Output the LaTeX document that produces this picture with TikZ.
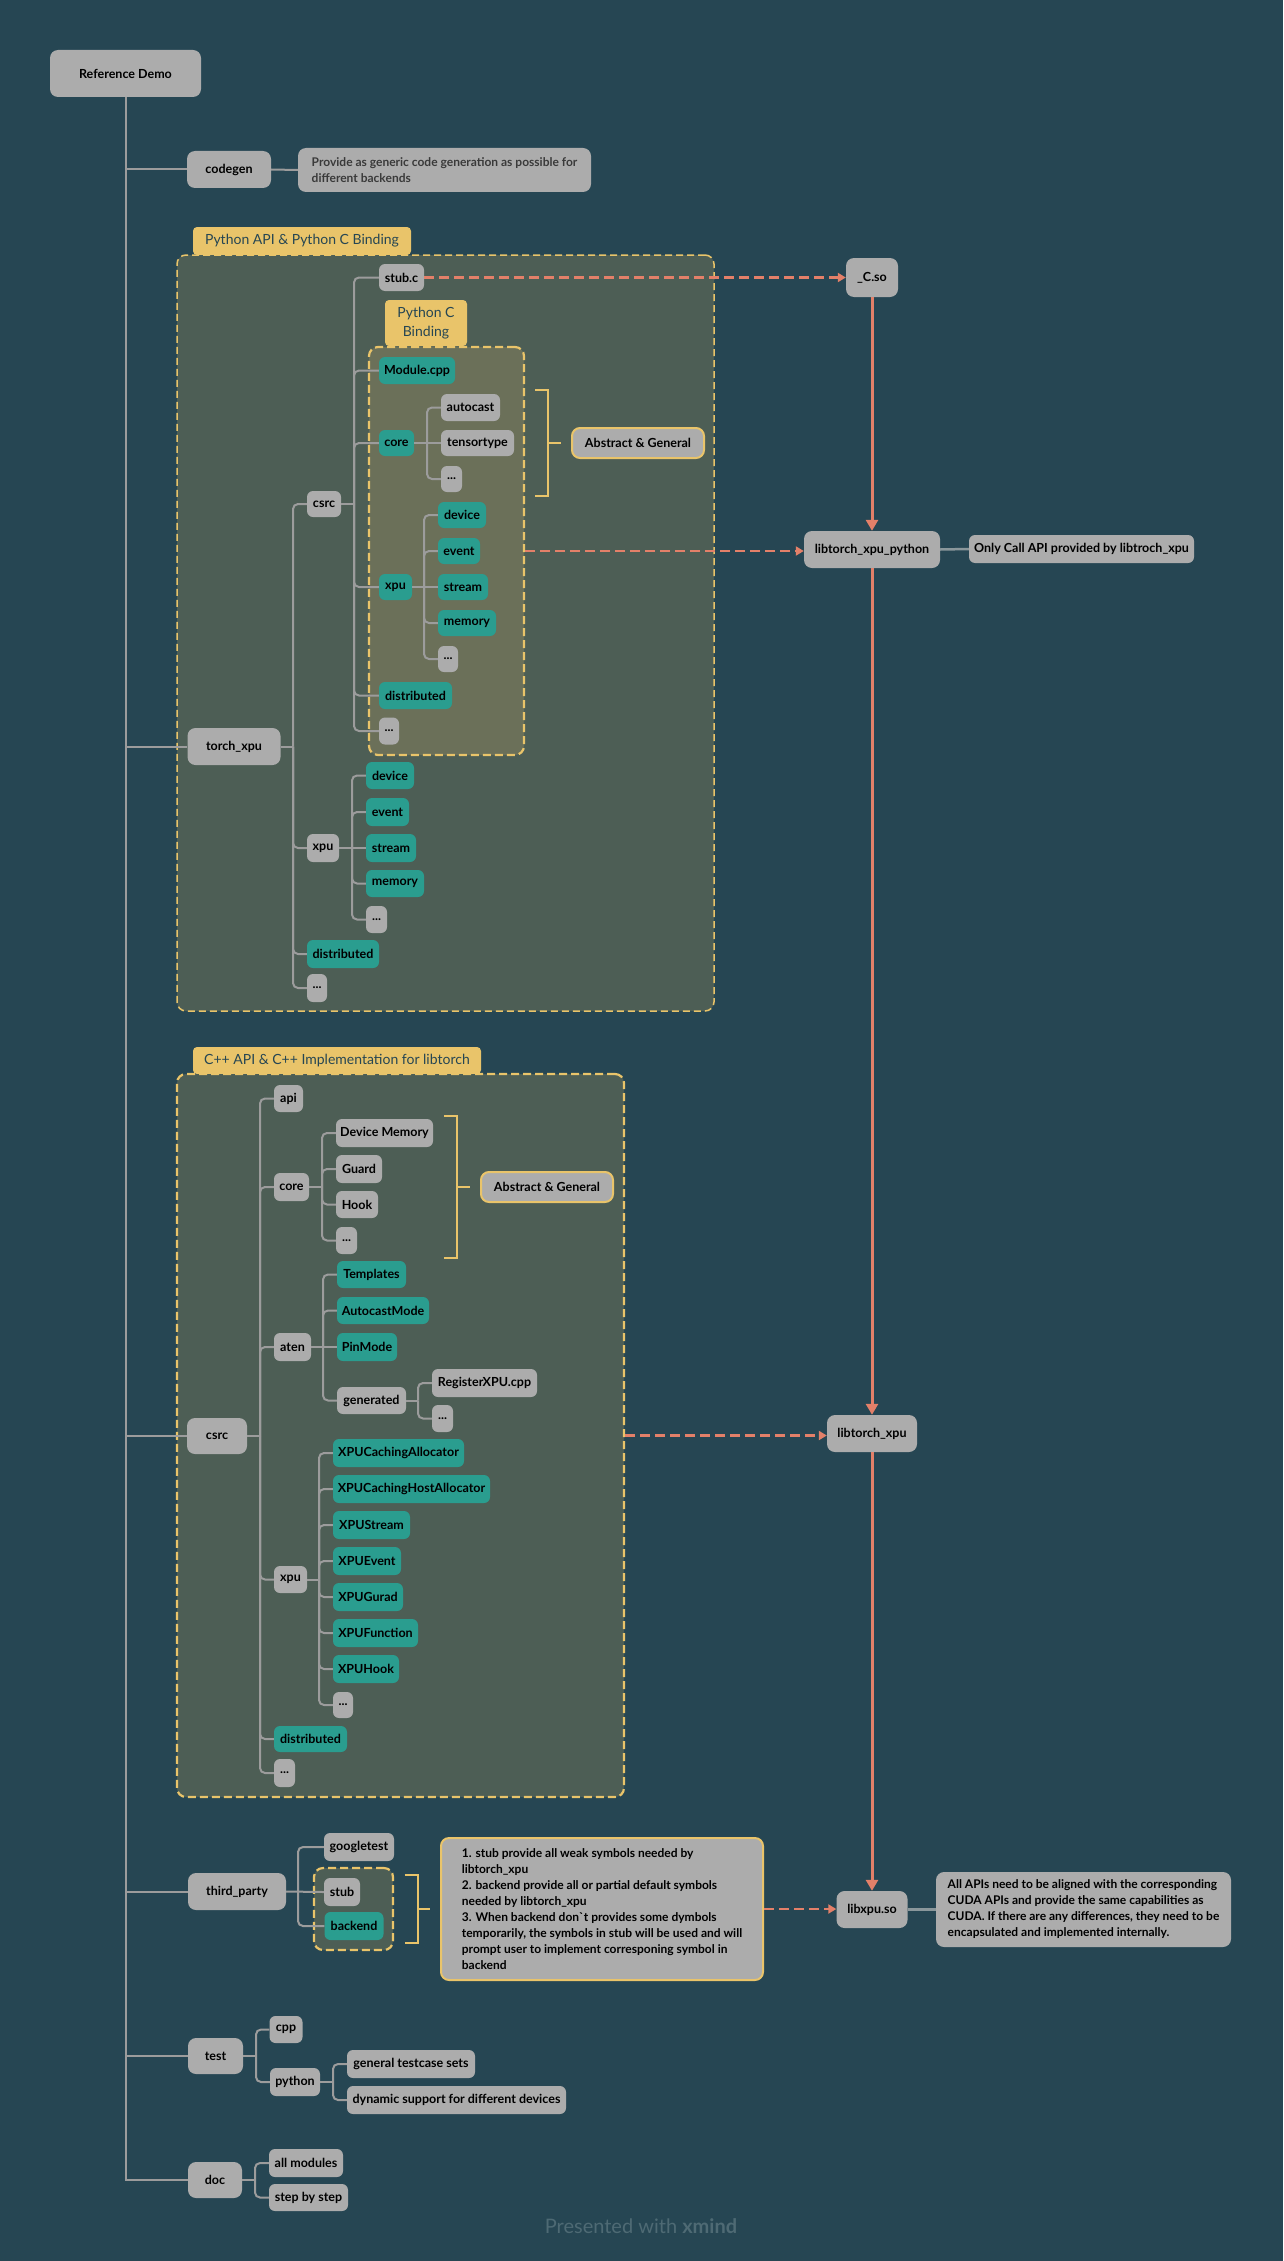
\documentclass[tikz,border=0pt]{standalone}
\usepackage{fontspec}
\setmainfont{Lato}
\usetikzlibrary{arrows, arrows.meta}

\definecolor{bgblue}{HTML}{264653}
\definecolor{nodegray}{HTML}{ACACAC}
\definecolor{nodeteal}{HTML}{2A9D8F}
\definecolor{tabyellow}{HTML}{E9C46A}
\definecolor{arrowred}{HTML}{E38069}
\definecolor{groupfill}{HTML}{4D5E55}
\definecolor{bindfill}{HTML}{6B7059}
\definecolor{linegray}{HTML}{9C9C9C}
\definecolor{notetext}{HTML}{3A3A3A}
\definecolor{markgray}{HTML}{4E6A74}
\definecolor{sidegray}{HTML}{8A979B}

\tikzset{
  sz/.style 2 args={minimum width=#1, minimum height=#2},
  gnode/.style={fill=nodegray, rounded corners=6, inner sep=0pt, text=black,
                font=\bfseries\fontsize{12.5}{15}\selectfont},
  tnode/.style={gnode, fill=nodeteal},
  topic/.style={gnode, rounded corners=8},
  summary/.style={gnode, draw=tabyellow, line width=2, rounded corners=8},
  tab/.style={fill=tabyellow, rounded corners=4, inner sep=0pt, text=bgblue,
              font=\fontsize{14}{19}\selectfont},
  group/.style={fill=groupfill, draw=tabyellow, dash pattern=on 7pt off 4pt,
                line width=1.5, rounded corners=9},
  branch/.style={draw=linegray, line width=2, rounded corners=5},
  trunk/.style={draw=linegray, line width=2},
  brak/.style={draw=tabyellow, line width=2},
  flow/.style={draw=arrowred, line width=3, -{Triangle[length=11pt,width=12pt]}},
  link/.style={draw=arrowred, line width=2.6, dash pattern=on 10pt off 5pt, -{Triangle[length=8pt,width=9pt]}},
  aside/.style={draw=sidegray, line width=2.5},
}

\begin{document}
\begin{tikzpicture}[x=1pt,y=-1pt]
\fill[bgblue] (0,0) rectangle (1283,2261);
\useasboundingbox (0,0) rectangle (1283,2261);

% main topics
\node[topic, sz={151}{47}] (root) at (125.5,73.5) {Reference Demo};
\node[topic, sz={84}{37}] (codegen) at (229,169.5) {codegen};
\node[gnode, sz={293}{44}, align=left, rounded corners=8, text=notetext,
      font=\bfseries\fontsize{12}{16}\selectfont] (codegenNote) at (444.5,170)
      {Provide as generic code generation as possible for\\different backends};

%% Python API & Python C Binding
\node[tab, sz={218}{28}] (pyTab) at (302,241) {Python API \& Python C Binding};
\node[group, sz={537}{756}] (pyGroup) at (445.5,633) {};
\node[tab, sz={82}{46}, align=center] (bindTab) at (426,323) {Python C\\Binding};
\node[group, fill=bindfill, line width=2.2, dash pattern=on 8pt off 4pt, sz={155}{408}] (bindGroup) at (446.5,551) {};

\node[topic, sz={93}{37}] (torchxpu) at (234,746.5) {torch\_xpu};
\node[gnode, sz={34}{26}] (csrcA) at (324,504) {csrc};
\node[gnode, sz={32}{28}] (xpuA) at (323,848) {xpu};
\node[tnode, sz={72}{28}] (distA) at (343,954) {distributed};
\node[gnode, sz={20}{28}] (dotsA) at (317,988) {...};

\node[gnode, sz={45}{27}] (stubc) at (401.5,277.5) {stub.c};
\node[tnode, sz={76}{27}] (modcpp) at (417,370.5) {Module.cpp};
\node[tnode, sz={35}{26}] (coreA) at (396.5,443) {core};
\node[tnode, sz={33}{26}] (xpuB) at (395.5,587) {xpu};
\node[tnode, sz={73}{27}] (distB) at (415.5,695.5) {distributed};
\node[gnode, sz={20}{27}] (dotsB) at (389,731) {...};

\node[gnode, sz={59}{27}] (autocast) at (470.5,407.5) {autocast};
\node[gnode, sz={73}{26}] (tensortype) at (477.5,443) {tensortype};
\node[gnode, sz={21}{26}] (dotsC) at (451.5,479) {...};

\node[tnode, sz={48}{26}] (devB) at (462,515) {device};
\node[tnode, sz={42}{26}] (evtB) at (459,551) {event};
\node[tnode, sz={50}{26}] (strB) at (463,587) {stream};
\node[tnode, sz={58}{26}] (memB) at (467,623) {memory};
\node[gnode, sz={20}{26}] (dotsD) at (448,659) {...};

\node[tnode, sz={48}{27}] (devA) at (390,775.5) {device};
\node[tnode, sz={43}{28}] (evtA) at (387.5,812) {event};
\node[tnode, sz={50}{28}] (strA) at (391,848) {stream};
\node[tnode, sz={58}{27}] (memA) at (395,883.5) {memory};
\node[gnode, sz={21}{27}] (dotsE) at (376.5,919.5) {...};

\draw[brak] (535,390) -- (548,390) -- (548,496) -- (535,496);
\draw[brak] (548,443) -- (561,443);
\node[summary, sz={132}{30}] (absA) at (638,443) {Abstract \& General};

%% C++ API & C++ Implementation for libtorch
\node[tab, sz={288}{27}] (cppTab) at (337,1060.5) {C++ API \& C++ Implementation for libtorch};
\node[group, line width=2.2, dash pattern=on 8pt off 4pt, sz={447}{723}] (cppGroup) at (400.5,1435.5) {};

\node[topic, sz={60}{36}] (csrcB) at (217,1436) {csrc};
\node[gnode, sz={29}{27}] (api) at (288.5,1098.5) {api};
\node[gnode, sz={35}{28}] (coreB) at (291.5,1187) {core};
\node[gnode, sz={37}{28}] (aten) at (292.5,1347) {aten};
\node[gnode, sz={33}{27}] (xpuC) at (290.5,1579.5) {xpu};
\node[tnode, sz={73}{26}] (distC) at (310.5,1739) {distributed};
\node[gnode, sz={21}{28}] (dotsF) at (284.5,1773) {...};

\node[gnode, sz={97}{28}] (devmem) at (384.5,1133) {Device Memory};
\node[gnode, sz={46}{28}] (guard) at (359,1169) {Guard};
\node[gnode, sz={42}{27}] (hook) at (357,1204.5) {Hook};
\node[gnode, sz={21}{27}] (dotsG) at (346.5,1240.5) {...};

\draw[brak] (444,1116) -- (457,1116) -- (457,1258) -- (444,1258);
\draw[brak] (457,1187) -- (470,1187);
\node[summary, sz={132}{30}] (absB) at (547,1187) {Abstract \& General};

\node[tnode, sz={69}{27}] (templ) at (371.5,1274.5) {Templates};
\node[tnode, sz={92}{27}] (autocm) at (383,1310.5) {AutocastMode};
\node[tnode, sz={60}{28}] (pinm) at (367,1347) {PinMode};
\node[gnode, sz={69}{27}] (gener) at (371.5,1400.5) {generated};
\node[gnode, sz={105}{28}] (regx) at (484.5,1383) {RegisterXPU.cpp};
\node[gnode, sz={21}{27}] (dotsH) at (442.5,1418.5) {...};

\node[tnode, sz={131}{28}] (xca) at (398.5,1453) {XPUCachingAllocator};
\node[tnode, sz={157}{28}] (xcha) at (411.5,1489) {XPUCachingHostAllocator};
\node[tnode, sz={77}{28}] (xst) at (371.5,1525) {XPUStream};
\node[tnode, sz={68}{28}] (xev) at (367,1561) {XPUEvent};
\node[tnode, sz={70}{28}] (xgu) at (368,1597) {XPUGurad};
\node[tnode, sz={85}{28}] (xfn) at (375.5,1633) {XPUFunction};
\node[tnode, sz={66}{28}] (xhk) at (366,1669) {XPUHook};
\node[gnode, sz={20}{26}] (dotsI) at (343,1705) {...};

%% third_party
\node[topic, sz={98}{37}] (thirdparty) at (237,1891.5) {third\_party};
\node[gnode, sz={70}{28}] (gtest) at (359,1847) {googletest};
\node[group, line width=2.2, dash pattern=on 8pt off 4pt, sz={79}{82}] (tpGroup) at (353.5,1909) {};
\node[gnode, sz={36}{28}] (stubT) at (342,1892) {stub};
\node[tnode, sz={59}{28}] (backend) at (354,1926) {backend};
\draw[brak] (404.5,1875) -- (417.5,1875) -- (417.5,1943) -- (404.5,1943);
\draw[brak] (417.5,1909) -- (430,1909);
\node[summary, sz={322}{142}, align=left, font=\bfseries\fontsize{12}{16}\selectfont] (tpNote) at (602,1909)
      {1. stub provide all weak symbols needed by\\libtorch\_xpu\\
       2. backend provide all or partial default symbols\\needed by libtorch\_xpu\\
       3. When backend don\textasciigrave t provides some dymbols\\
       temporarily, the symbols in stub will be used and will\\
       prompt user to implement corresponing symbol in\\backend};

%% test, doc
\node[topic, sz={55}{36}] (test) at (215.5,2056) {test};
\node[gnode, sz={33}{27}] (cpp) at (286,2029.5) {cpp};
\node[gnode, sz={50}{28}] (python) at (295,2082) {python};
\node[gnode, sz={128}{28}] (gts) at (411,2064) {general testcase sets};
\node[gnode, sz={219}{28}] (dyn) at (456.5,2100) {dynamic support for different devices};
\node[topic, sz={54}{36}] (doc) at (215,2180) {doc};
\node[gnode, sz={74}{28}] (allm) at (306,2163) {all modules};
\node[gnode, sz={79}{27}] (sbs) at (308.5,2197.5) {step by step};

%% libraries
\node[topic, sz={52}{39}] (cso) at (872,277.5) {\_C.so};
\node[topic, sz={136}{37}] (ltxp) at (872,549.5) {libtorch\_xpu\_python};
\node[gnode, sz={225}{28}] (onlyCall) at (1081.5,549) {Only Call API provided by libtroch\_xpu};
\node[topic, sz={90}{37}] (ltx) at (872,1433.5) {libtorch\_xpu};
\node[topic, sz={71}{37}] (libxpu) at (872,1909.5) {libxpu.so};
\node[gnode, sz={295}{75}, align=left, rounded corners=8,
      font=\bfseries\fontsize{12}{16}\selectfont] (cudaNote) at (1083.5,1909.5)
      {All APIs need to be aligned with the corresponding\\
       CUDA APIs and provide the same capabilities as\\
       CUDA. If there are any differences, they need to be\\
       encapsulated and implemented internally.};

\node[font=\fontsize{20}{24}\selectfont, text=markgray] (credit) at (641,2226) {Presented with \textbf{xmind}};

% trunk
\draw[trunk] (root.south) -- (root.south |- doc.west) -- (doc.west);
\draw[trunk] (root.south |- codegen.west) -- (codegen.west);
\draw[trunk] (root.south |- torchxpu.west) -- (torchxpu.west);
\draw[trunk] (root.south |- csrcB.west) -- (csrcB.west);
\draw[trunk] (root.south |- thirdparty.west) -- (thirdparty.west);
\draw[trunk] (root.south |- test.west) -- (test.west);
\draw[trunk] (codegen.east) -- (codegenNote.west);

% torch_xpu
\coordinate (jTorch) at (293,746.5);
\draw[branch] (torchxpu.east) -- (jTorch);
\draw[branch] (jTorch) |- (csrcA.west);
\draw[branch] (jTorch) |- (xpuA.west);
\draw[branch] (jTorch) |- (distA.west);
\draw[branch] (jTorch) |- (dotsA.west);

\coordinate (jCsrcA) at (354,504);
\draw[branch] (csrcA.east) -- (jCsrcA);
\draw[branch] (jCsrcA) |- (stubc.west);
\draw[branch] (jCsrcA) |- (modcpp.west);
\draw[branch] (jCsrcA) |- (coreA.west);
\draw[branch] (jCsrcA) |- (xpuB.west);
\draw[branch] (jCsrcA) |- (distB.west);
\draw[branch] (jCsrcA) |- (dotsB.west);

\coordinate (jCoreA) at (427,443);
\draw[branch] (coreA.east) -- (tensortype.west);
\draw[branch] (jCoreA) |- (autocast.west);
\draw[branch] (jCoreA) |- (dotsC.west);

\coordinate (jXpuB) at (424,587);
\draw[branch] (xpuB.east) -- (strB.west);
\draw[branch] (jXpuB) |- (devB.west);
\draw[branch] (jXpuB) |- (evtB.west);
\draw[branch] (jXpuB) |- (memB.west);
\draw[branch] (jXpuB) |- (dotsD.west);

\coordinate (jXpuA) at (352,848);
\draw[branch] (xpuA.east) -- (strA.west);
\draw[branch] (jXpuA) |- (devA.west);
\draw[branch] (jXpuA) |- (evtA.west);
\draw[branch] (jXpuA) |- (memA.west);
\draw[branch] (jXpuA) |- (dotsE.west);

% csrc (C++)
\coordinate (jCsrcB) at (260,1436);
\draw[branch] (csrcB.east) -- (jCsrcB);
\draw[branch] (jCsrcB) |- (api.west);
\draw[branch] (jCsrcB) |- (coreB.west);
\draw[branch] (jCsrcB) |- (aten.west);
\draw[branch] (jCsrcB) |- (xpuC.west);
\draw[branch] (jCsrcB) |- (distC.west);
\draw[branch] (jCsrcB) |- (dotsF.west);

\coordinate (jCoreB) at (322,1187);
\draw[branch] (coreB.east) -- (jCoreB);
\draw[branch] (jCoreB) |- (devmem.west);
\draw[branch] (jCoreB) |- (guard.west);
\draw[branch] (jCoreB) |- (hook.west);
\draw[branch] (jCoreB) |- (dotsG.west);

\coordinate (jAten) at (323,1347);
\draw[branch] (aten.east) -- (pinm.west);
\draw[branch] (jAten) |- (templ.west);
\draw[branch] (jAten) |- (autocm.west);
\draw[branch] (jAten) |- (gener.west);

\coordinate (jGener) at (418,1400.5);
\draw[branch] (gener.east) -- (jGener);
\draw[branch] (jGener) |- (regx.west);
\draw[branch] (jGener) |- (dotsH.west);

\coordinate (jXpuC) at (319,1579.5);
\draw[branch] (xpuC.east) -- (jXpuC);
\draw[branch] (jXpuC) |- (xca.west);
\draw[branch] (jXpuC) |- (xcha.west);
\draw[branch] (jXpuC) |- (xst.west);
\draw[branch] (jXpuC) |- (xev.west);
\draw[branch] (jXpuC) |- (xgu.west);
\draw[branch] (jXpuC) |- (xfn.west);
\draw[branch] (jXpuC) |- (xhk.west);
\draw[branch] (jXpuC) |- (dotsI.west);

% third_party, test, doc
\coordinate (jThird) at (298,1891.5);
\draw[branch] (thirdparty.east) -- (stubT.west);
\draw[branch] (jThird) |- (gtest.west);
\draw[branch] (jThird) |- (backend.west);

\coordinate (jTest) at (256,2056);
\draw[branch] (test.east) -- (jTest);
\draw[branch] (jTest) |- (cpp.west);
\draw[branch] (jTest) |- (python.west);

\coordinate (jPython) at (333,2082);
\draw[branch] (python.east) -- (jPython);
\draw[branch] (jPython) |- (gts.west);
\draw[branch] (jPython) |- (dyn.west);

\coordinate (jDoc) at (255,2180);
\draw[branch] (doc.east) -- (jDoc);
\draw[branch] (jDoc) |- (allm.west);
\draw[branch] (jDoc) |- (sbs.west);

% library links
\draw[flow] (cso.south) -- (ltxp.north);
\draw[flow] (ltxp.south) -- (ltx.north);
\draw[flow] (ltx.south) -- (libxpu.north);
\draw[link] (stubc.east) -- (cso.west);
\draw[link] (bindGroup.east) -- (bindGroup.east -| ltxp.west);
\draw[link] (cppGroup.east) -- (cppGroup.east -| ltx.west);
\draw[link] (tpNote.east) -- (tpNote.east -| libxpu.west);
\draw[aside] (ltxp.east) -- (onlyCall.west);
\draw[aside] (libxpu.east) -- (cudaNote.west);
\end{tikzpicture}
\end{document}
